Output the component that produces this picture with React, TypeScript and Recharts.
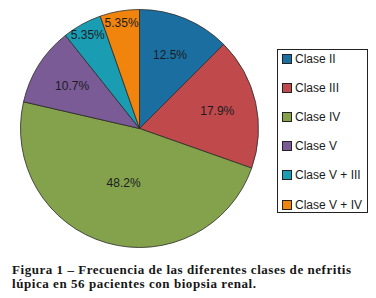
import React from "react";
import { PieChart, Pie, Cell, Legend } from "recharts";

const categories = ["Clase II", "Clase III", "Clase IV", "Clase V", "Clase V + III", "Clase V + IV"];
const values = [12.5, 17.9, 48.2, 10.7, 5.35, 5.35];
const valueLabels = ["12.5%", "17.9%", "48.2%", "10.7%", "5.35%", "5.35%"];
const colors = ["#1b6fa0", "#c0494b", "#84a24b", "#7a5b95", "#1a9db2", "#f0840d"];
const captionLines = [
  "Figura 1 – Frecuencia de las diferentes clases de nefritis",
  "lúpica en 56 pacientes con biopsia renal.",
];
const captionWidths = [339, 244];

const data = categories.map((name, i) => ({ name, value: values[i], label: valueLabels[i] }));

const RAD = Math.PI / 180;

const renderLabel = (props: any) => {
  const { cx, cy, midAngle, outerRadius, percent, index } = props;
  let f = 0.67;
  if (percent < 0.07) f = 0.9;
  else if (percent > 0.4) f = 0.48;
  const r = outerRadius * f;
  const x = cx + r * Math.cos(-midAngle * RAD);
  const y = cy + r * Math.sin(-midAngle * RAD);
  return (
    <text
      x={x}
      y={y}
      fill="#1c1c24"
      fontSize={12}
      fontFamily="'Liberation Sans', Arial, sans-serif"
      textAnchor="middle"
      dominantBaseline="central"
    >
      {data[index].label}
    </text>
  );
};

const LegendBox = () => (
  <div
    style={{
      width: 89,
      height: 162,
      border: "1px solid #222",
      background: "#fff",
      boxSizing: "content-box",
      position: "relative",
      fontFamily: "'Liberation Sans', Arial, sans-serif",
      fontSize: 12,
      color: "#1a1a1a",
    }}
  >
    {categories.map((c, i) => (
      <div
        key={c}
        style={{
          position: "absolute",
          left: 4,
          top: 4 + i * 29.1,
          height: 10,
          display: "flex",
          alignItems: "center",
          whiteSpace: "nowrap",
        }}
      >
        <span
          style={{
            display: "inline-block",
            width: 8,
            height: 8,
            border: "1px solid #222",
            background: colors[i],
            marginRight: 3,
          }}
        />
        <span style={{ lineHeight: "10px" }}>{c}</span>
      </div>
    ))}
  </div>
);

export default function App() {
  return (
    <div style={{ position: "absolute", left: 0, top: 0, width: 376, height: 298, background: "#fff" }}>
      <PieChart width={376} height={255} margin={{ top: 0, right: 0, bottom: 0, left: 0 }}>
        <Pie
          data={data}
          dataKey="value"
          nameKey="name"
          cx={139.5}
          cy={128.5}
          outerRadius={119}
          startAngle={90}
          endAngle={-270}
          stroke="#2a2a2a"
          strokeWidth={0.8}
          label={renderLabel}
          labelLine={false}
          isAnimationActive={false}
        >
          {data.map((d, i) => (
            <Cell key={d.name} fill={colors[i]} />
          ))}
        </Pie>
        <Legend
          content={() => <LegendBox />}
          wrapperStyle={{ position: "absolute", left: 277, top: 49, width: 91 }}
        />
      </PieChart>
      <svg
        width={376}
        height={43}
        style={{ position: "absolute", left: 0, top: 255 }}
      >
        {captionLines.map((l, i) => (
          <text
            key={l}
            x={12}
            y={19.3 + i * 13.7}
            fontFamily="'Liberation Serif', serif"
            fontWeight="bold"
            fontSize={13}
            fill="#161616"
            textLength={captionWidths[i]}
            lengthAdjust="spacing"
          >
            {l}
          </text>
        ))}
      </svg>
    </div>
  );
}
